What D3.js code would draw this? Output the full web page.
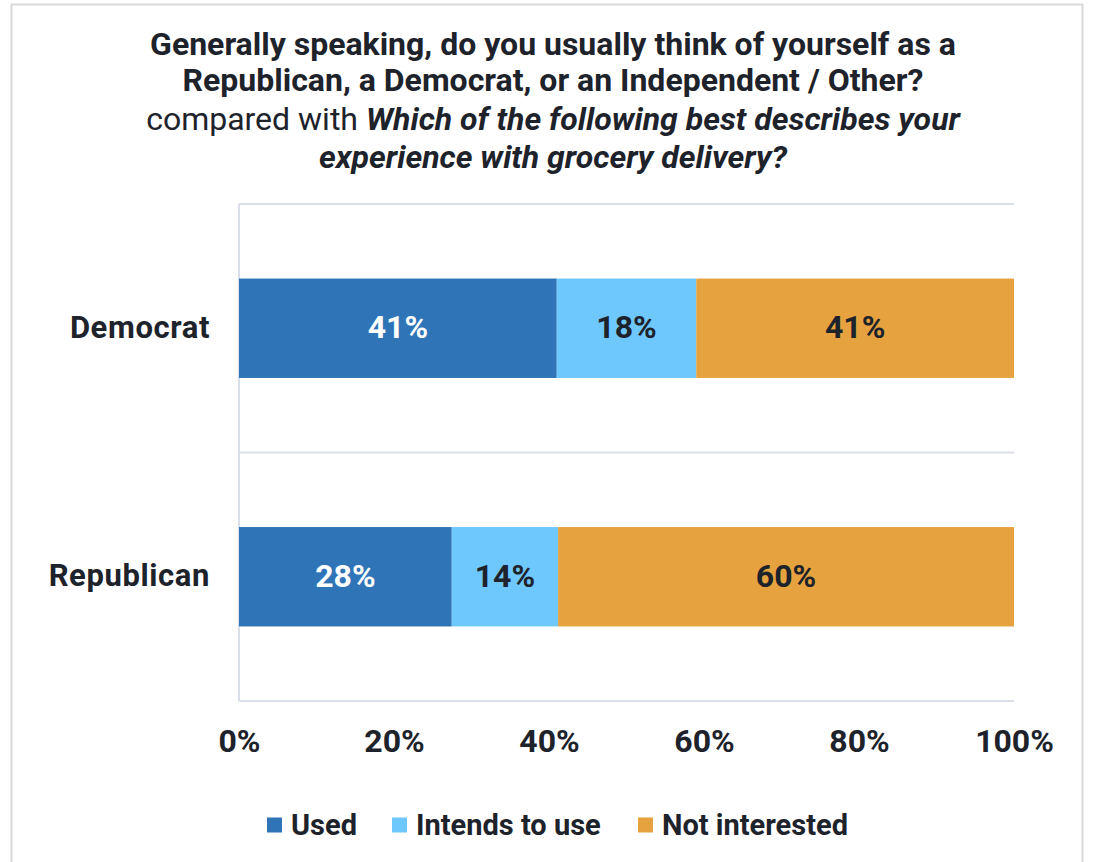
<!DOCTYPE html>
<html>
<head>
<meta charset="utf-8">
<script src="https://cdn.jsdelivr.net/npm/d3@7"></script>
<style>
  html, body { margin: 0; padding: 0; background: #fff; }
  svg { display: block; font-family: Roboto, "Noto Sans", sans-serif; }
</style>
</head>
<body>
<svg id="chart" width="1094" height="862"></svg>
<script>
// Party groups (top to bottom)
const categories = ["Democrat", "Republican"];
// Response series
const seriesNames = ["Used", "Intends to use", "Not interested"];
const usedValues = [41, 28];
const intendsValues = [18, 14];
const notInterestedValues = [41, 60];
const tickValues = [0, 0.2, 0.4, 0.6, 0.8, 1.0];

const colors = ["#2e74b7", "#6ec8fe", "#e6a23e"];
const labelColors = ["#ffffff", "#1d222b", "#1d222b"];

const rows = categories.map((c, i) => ({
  category: c,
  "Used": usedValues[i],
  "Intends to use": intendsValues[i],
  "Not interested": notInterestedValues[i]
}));

const svg = d3.select("#chart");
const ink = "#1d222b";

// outer frame
svg.append("rect")
  .attr("x", 11.5).attr("y", 4.5)
  .attr("width", 1071).attr("height", 880)
  .attr("fill", "#fff").attr("stroke", "#d9d9d9").attr("stroke-width", 2);

// title
const tx = 553;
const titleSize = 32;
svg.append("text").attr("text-anchor", "middle").attr("fill", ink)
  .attr("font-size", titleSize).attr("font-weight", 700)
  .attr("x", tx).attr("y", 55)
  .text("Generally speaking, do you usually think of yourself as a");
svg.append("text").attr("text-anchor", "middle").attr("fill", ink)
  .attr("font-size", titleSize).attr("font-weight", 700)
  .attr("x", tx).attr("y", 91)
  .text("Republican, a Democrat, or an Independent / Other?");
const l3 = svg.append("text").attr("text-anchor", "middle").attr("fill", ink)
  .attr("font-size", titleSize).attr("x", tx).attr("y", 130);
l3.append("tspan").attr("font-weight", 400).text("compared with ");
l3.append("tspan").attr("font-weight", 700).attr("font-style", "italic")
  .text("Which of the following best describes your");
svg.append("text").attr("text-anchor", "middle").attr("fill", ink)
  .attr("font-size", titleSize).attr("x", tx).attr("y", 168)
  .attr("font-weight", 700).attr("font-style", "italic")
  .text("experience with grocery delivery?");

// plot area
const plotLeft = 239, plotRight = 1014, plotTop = 204, plotBottom = 701;

const x = d3.scaleLinear().domain([0, 1]).range([plotLeft, plotRight]);
const y = d3.scaleBand().domain(categories).range([plotTop, plotBottom]).paddingInner(0.6).paddingOuter(0.3);

const stack = d3.stack().keys(seriesNames).offset(d3.stackOffsetExpand);
const stacked = stack(rows);

// band boundary gridlines
const bandStep = (plotBottom - plotTop) / categories.length;
const gridYs = d3.range(categories.length + 1).map(i => plotTop + i * bandStep);
svg.append("g").selectAll("line").data(gridYs).join("line")
  .attr("x1", plotLeft).attr("x2", plotRight)
  .attr("y1", d => d).attr("y2", d => d)
  .attr("stroke", "#d9dee8").attr("stroke-width", 2);
svg.append("line")
  .attr("x1", plotLeft).attr("x2", plotLeft).attr("y1", plotTop).attr("y2", plotBottom)
  .attr("stroke", "#d9dee8").attr("stroke-width", 2);

// bars
const layers = svg.append("g").selectAll("g").data(stacked).join("g")
  .attr("fill", (d, i) => colors[i]);
layers.selectAll("rect").data(d => d).join("rect")
  .attr("x", d => x(d[0]))
  .attr("y", d => y(d.data.category))
  .attr("width", d => x(d[1]) - x(d[0]))
  .attr("height", y.bandwidth());

// value labels
stacked.forEach((layer, li) => {
  svg.append("g").selectAll("text").data(layer).join("text")
    .attr("x", d => (x(d[0]) + x(d[1])) / 2)
    .attr("y", d => y(d.data.category) + y.bandwidth() / 2 - 1.5)
    .attr("dy", "0.36em")
    .attr("text-anchor", "middle")
    .attr("font-size", 32).attr("font-weight", 700)
    .attr("fill", labelColors[li])
    .text(d => d.data[layer.key] + "%");
});

// category axis
const yAxis = svg.append("g").attr("transform", `translate(${plotLeft - 29},-1.5)`)
  .call(d3.axisLeft(y).tickSize(0).tickPadding(0));
yAxis.select(".domain").remove();
yAxis.selectAll("text")
  .attr("dy", "0.36em")
  .attr("font-size", 31).attr("font-weight", 700).attr("fill", ink)
  .attr("letter-spacing", 0.6)
  .attr("font-family", "Roboto, sans-serif");

// value axis
const xAxis = svg.append("g").attr("transform", `translate(0,752)`)
  .call(d3.axisBottom(x).tickValues(tickValues).tickFormat(d3.format(".0%")).tickSize(0).tickPadding(0));
xAxis.select(".domain").remove();
xAxis.selectAll("text")
  .attr("dy", 0)
  .attr("font-size", 32).attr("font-weight", 700).attr("fill", ink)
  .attr("font-family", "Roboto, sans-serif");

// legend
const legendItems = [
  { name: seriesNames[0], x: 267 },
  { name: seriesNames[1], x: 392 },
  { name: seriesNames[2], x: 638 }
];
const lg = svg.append("g").selectAll("g").data(legendItems).join("g")
  .attr("transform", d => `translate(${d.x},825)`);
lg.append("rect").attr("x", 0).attr("y", -7.5).attr("width", 15).attr("height", 15)
  .attr("fill", (d, i) => colors[i]);
lg.append("text").attr("x", 24).attr("dy", "0.36em")
  .attr("font-size", 29).attr("font-weight", 700).attr("fill", ink)
  .text(d => d.name);
</script>
</body>
</html>
